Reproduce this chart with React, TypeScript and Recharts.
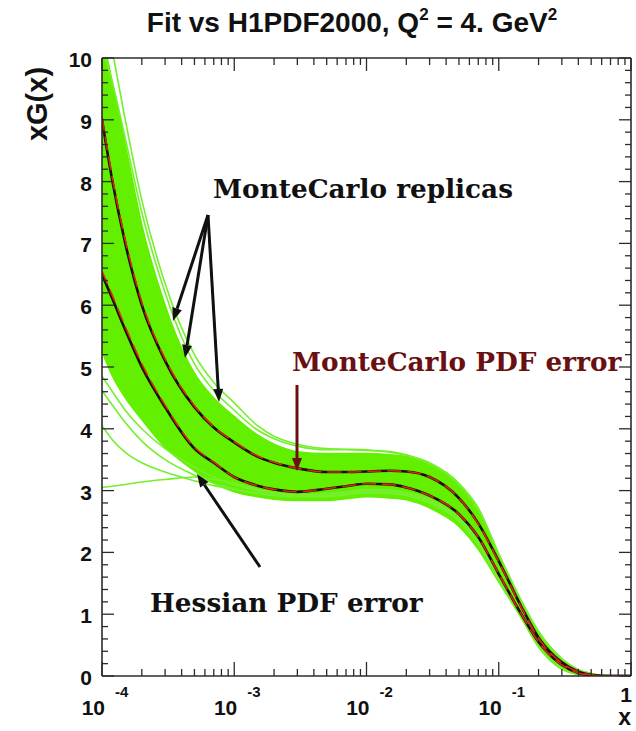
import React from "react"
import { ComposedChart, Area, Line, XAxis, YAxis } from "recharts"

// shared x grid for every curve (log scale)
const xValues = [
  1e-4, 1.2e-4, 1.5e-4, 2e-4, 3e-4, 5e-4, 7e-4, 1e-3, 1.5e-3, 2e-3, 3e-3, 5e-3, 7e-3, 1e-2,
  1.5e-2, 2e-2, 3e-2, 5e-2, 7e-2, 0.1, 0.15, 0.2, 0.3, 0.4, 0.5, 0.6, 0.8, 1,
]

// envelope of the MonteCarlo replica band
const bandHigh = [
  10.4, 9.6, 8.6, 7.3, 6.0, 4.9, 4.5, 4.2, 3.9, 3.75, 3.63, 3.6, 3.6, 3.6,
  3.58, 3.55, 3.42, 3.08, 2.66, 1.95, 1.18, 0.72, 0.28, 0.1, 0.04, 0.01, 0, 0,
]
const bandLow = [
  5.25, 4.85, 4.5, 4.15, 3.7, 3.32, 3.12, 2.98, 2.9, 2.86, 2.84, 2.84, 2.87, 2.9,
  2.88, 2.85, 2.72, 2.42, 2.05, 1.52, 0.92, 0.47, 0.11, 0.02, 0, 0, 0, 0,
]

// replicas that stray outside the dense band
const strayReplicas = [
  [3.05, 3.07, 3.1, 3.14, 3.18, 3.22, 3.18, 3.12, 3.02, 2.97, 2.93, 2.93, 2.96, 3.0,
    3.0, 2.96, 2.84, 2.54, 2.18, 1.58, 0.94, 0.5, 0.14, 0.03, 0.01, 0, 0, 0],
  [4.05, 3.82, 3.62, 3.45, 3.3, 3.16, 3.08, 3.02, 2.95, 2.92, 2.9, 2.9, 2.93, 2.96,
    2.95, 2.92, 2.8, 2.5, 2.12, 1.55, 0.93, 0.48, 0.12, 0.03, 0.01, 0, 0, 0],
  [4.62, 4.38, 4.1, 3.8, 3.5, 3.25, 3.12, 3.03, 2.96, 2.93, 2.92, 2.92, 2.95, 2.98,
    2.97, 2.94, 2.82, 2.52, 2.15, 1.56, 0.93, 0.48, 0.13, 0.03, 0.01, 0, 0, 0],
  [4.85, 4.6, 4.3, 4.0, 3.68, 3.38, 3.22, 3.1, 3.0, 2.96, 2.94, 2.95, 2.98, 3.02,
    3.01, 2.97, 2.86, 2.56, 2.2, 1.6, 0.95, 0.5, 0.14, 0.04, 0.01, 0, 0, 0],
  [10.9, 10.1, 9.0, 7.7, 6.35, 5.2, 4.75, 4.42, 4.05, 3.88, 3.75, 3.68, 3.67, 3.66,
    3.63, 3.58, 3.45, 3.12, 2.72, 1.98, 1.2, 0.72, 0.28, 0.1, 0.04, 0.01, 0, 0],
  [10.2, 9.6, 8.7, 7.5, 6.2, 5.05, 4.62, 4.3, 3.98, 3.84, 3.72, 3.66, 3.66, 3.65,
    3.62, 3.57, 3.44, 3.1, 2.7, 1.96, 1.18, 0.71, 0.27, 0.1, 0.04, 0.01, 0, 0],
]

// Hessian error bounds
const hessianUpper = [
  9.0, 8.0, 7.0, 6.0, 5.1, 4.35, 4.02, 3.78, 3.55, 3.45, 3.36, 3.3, 3.3, 3.31,
  3.32, 3.31, 3.22, 2.88, 2.47, 1.86, 1.1, 0.62, 0.22, 0.07, 0.02, 0, 0, 0,
]
const hessianLower = [
  6.5, 6.1, 5.6, 5.0, 4.35, 3.68, 3.45, 3.22, 3.08, 3.02, 2.98, 3.03, 3.07, 3.11,
  3.1, 3.05, 2.92, 2.62, 2.25, 1.65, 0.98, 0.55, 0.18, 0.05, 0.01, 0, 0, 0,
]

// MonteCarlo error bounds
const mcUpper = [
  9.05, 8.05, 7.05, 6.05, 5.13, 4.37, 4.03, 3.79, 3.56, 3.46, 3.36, 3.3, 3.3, 3.31,
  3.32, 3.31, 3.22, 2.88, 2.46, 1.85, 1.09, 0.61, 0.21, 0.07, 0.02, 0, 0, 0,
]
const mcLower = [
  6.55, 6.15, 5.65, 5.05, 4.38, 3.7, 3.46, 3.22, 3.08, 3.02, 2.98, 3.03, 3.07, 3.11,
  3.1, 3.05, 2.92, 2.62, 2.25, 1.65, 0.98, 0.55, 0.18, 0.05, 0.01, 0, 0, 0,
]

// axis ticks
const decades = [1e-4, 1e-3, 1e-2, 1e-1]
const mantissas = [1, 2, 3, 4, 5, 6, 7, 8, 9]
const yMajors = [0, 1, 2, 3, 4, 5, 6, 7, 8, 9, 10]
const yMinorSteps = [0, 0.2, 0.4, 0.6, 0.8]

const xTicks = [...decades.flatMap((d) => mantissas.map((m) => m * d)), 1]
const yTicks = yMajors.flatMap((v) => (v === 10 ? [10] : yMinorSteps.map((s) => +(v + s).toFixed(1))))

const data = xValues.map((x, i) => {
  const row: Record<string, any> = {
    x,
    band: [bandLow[i], bandHigh[i]],
    hU: hessianUpper[i],
    hL: hessianLower[i],
    mU: mcUpper[i],
    mL: mcLower[i],
  }
  strayReplicas.forEach((r, k) => (row[`s${k}`] = r[i]))
  return row
})

const W = 636
const H = 731
const green = "#63ef00"
const frame = "#2b2b2b"
const axisFont = "'Liberation Sans', Arial, Helvetica, sans-serif"
const serifFont = "'DejaVu Serif', 'Liberation Serif', serif"

const isDecade = (v: number) => Math.abs(Math.log10(v) - Math.round(Math.log10(v))) < 1e-6

function BottomTick({ x, y, payload }: any) {
  const v = payload.value
  const major = isDecade(v)
  const exp = Math.round(Math.log10(v))
  return (
    <g>
      <line x1={x} x2={x} y1={y} y2={y - (major ? 14 : 7)} stroke={frame} strokeWidth={1.3} />
      {major && exp === 0 ? (
        <text x={x + 1} y={y + 26} textAnchor="end" fontFamily={axisFont} fontWeight="bold" fontSize={21} fill="#111">
          1
        </text>
      ) : null}
      {major && exp !== 0 ? (
        <g fontFamily={axisFont} fontWeight="bold" fill="#111">
          <text x={x + 3} y={y + 39} textAnchor="end" fontSize={21}>
            10
          </text>
          <text x={x + 13} y={y + 21} textAnchor="start" fontSize={15}>
            {`-${-exp}`}
          </text>
        </g>
      ) : null}
    </g>
  )
}

function TopTick({ x, y, payload }: any) {
  const major = isDecade(payload.value)
  return <line x1={x} x2={x} y1={y} y2={y + (major ? 13 : 7)} stroke={frame} strokeWidth={1.3} />
}

function LeftTick({ x, y, payload }: any) {
  const v = payload.value
  const major = Number.isInteger(v)
  return (
    <g>
      <line x1={x} x2={x + (major ? 12 : 6)} y1={y} y2={y} stroke={frame} strokeWidth={1.3} />
      {major ? (
        <text x={x - 10} y={y + 9} textAnchor="end" fontFamily={axisFont} fontWeight="bold" fontSize={21} fill="#111">
          {v}
        </text>
      ) : null}
    </g>
  )
}

function RightTick({ x, y, payload }: any) {
  const major = Number.isInteger(payload.value)
  return <line x1={x} x2={x - (major ? 12 : 6)} y1={y} y2={y} stroke={frame} strokeWidth={1.3} />
}

function Arrow({ x1, y1, x2, y2, color }: { x1: number; y1: number; x2: number; y2: number; color: string }) {
  const a = Math.atan2(y2 - y1, x2 - x1)
  const len = 13
  const half = 5
  const bx = x2 - len * Math.cos(a)
  const by = y2 - len * Math.sin(a)
  const px = -Math.sin(a) * half
  const py = Math.cos(a) * half
  return (
    <g>
      <line x1={x1} y1={y1} x2={bx} y2={by} stroke={color} strokeWidth={3} />
      <polygon points={`${x2},${y2} ${bx + px},${by + py} ${bx - px},${by - py}`} fill={color} />
    </g>
  )
}

export default function App() {
  return (
    <div style={{ position: "absolute", left: 0, top: 0, width: W, height: H, background: "#fff" }}>
      <ComposedChart width={W} height={H} data={data} margin={{ top: 57, right: 4, bottom: 0, left: 42 }}>
        <XAxis
          xAxisId="bottom"
          dataKey="x"
          type="number"
          scale="log"
          domain={[1e-4, 1]}
          allowDataOverflow
          ticks={xTicks}
          interval={0}
          height={55}
          tickSize={0}
          tickMargin={0}
          tickLine={false}
          axisLine={{ stroke: frame, strokeWidth: 1.6 }}
          tick={<BottomTick />}
        />
        <XAxis
          xAxisId="top"
          orientation="top"
          dataKey="x"
          type="number"
          scale="log"
          domain={[1e-4, 1]}
          allowDataOverflow
          ticks={xTicks}
          interval={0}
          height={1}
          tickSize={0}
          tickMargin={0}
          tickLine={false}
          axisLine={{ stroke: frame, strokeWidth: 1.6 }}
          tick={<TopTick />}
        />
        <YAxis
          yAxisId="left"
          type="number"
          domain={[0, 10]}
          allowDataOverflow
          ticks={yTicks}
          interval={0}
          width={60}
          tickSize={0}
          tickMargin={0}
          tickLine={false}
          axisLine={{ stroke: frame, strokeWidth: 1.6 }}
          tick={<LeftTick />}
        />
        <YAxis
          yAxisId="right"
          orientation="right"
          type="number"
          domain={[0, 10]}
          allowDataOverflow
          ticks={yTicks}
          interval={0}
          width={1}
          tickSize={0}
          tickMargin={0}
          tickLine={false}
          axisLine={{ stroke: frame, strokeWidth: 1.6 }}
          tick={<RightTick />}
        />

        <Area
          xAxisId="bottom"
          yAxisId="left"
          dataKey="band"
          type="monotone"
          fill={green}
          fillOpacity={1}
          stroke={green}
          strokeWidth={1.5}
          isAnimationActive={false}
          dot={false}
          activeDot={false}
        />
        {strayReplicas.map((_, k) => (
          <Line
            key={k}
            xAxisId="bottom"
            yAxisId="left"
            dataKey={`s${k}`}
            type="monotone"
            stroke="#74f02c"
            strokeWidth={1.6}
            dot={false}
            activeDot={false}
            isAnimationActive={false}
          />
        ))}
        <Line xAxisId="bottom" yAxisId="left" dataKey="hU" type="monotone" stroke="#1a0d0d" strokeWidth={2.6} dot={false} activeDot={false} isAnimationActive={false} />
        <Line xAxisId="bottom" yAxisId="left" dataKey="hL" type="monotone" stroke="#1a0d0d" strokeWidth={2.6} dot={false} activeDot={false} isAnimationActive={false} />
        <Line xAxisId="bottom" yAxisId="left" dataKey="mU" type="monotone" stroke="#d8280e" strokeWidth={1.6} strokeDasharray="14 6" dot={false} activeDot={false} isAnimationActive={false} />
        <Line xAxisId="bottom" yAxisId="left" dataKey="mL" type="monotone" stroke="#d8280e" strokeWidth={1.6} strokeDasharray="14 6" dot={false} activeDot={false} isAnimationActive={false} />
      </ComposedChart>

      <svg width={W} height={H} style={{ position: "absolute", left: 0, top: 0, pointerEvents: "none" }}>
        <text x={352} y={32} textAnchor="middle" fontFamily={axisFont} fontWeight="bold" fontSize={28} fill="#111">
          Fit vs H1PDF2000, Q<tspan fontSize={17} dy={-12}>2</tspan>
          <tspan dy={12}> = 4. GeV</tspan>
          <tspan fontSize={17} dy={-12}>2</tspan>
        </text>
        <text
          transform="translate(47,104) rotate(-90)"
          textAnchor="middle"
          fontFamily={axisFont}
          fontWeight="bold"
          fontSize={29}
          fill="#111"
        >
          xG(x)
        </text>
        <text x={631} y={725} textAnchor="end" fontFamily={axisFont} fontWeight="bold" fontSize={23} fill="#111">
          x
        </text>

        <text x={213} y={198} fontFamily={serifFont} fontWeight="bold" fontSize={26.3} fill="#111">
          MonteCarlo replicas
        </text>
        <Arrow x1={208} y1={215} x2={173} y2={321} color="#111" />
        <Arrow x1={208} y1={215} x2={185} y2={358} color="#111" />
        <Arrow x1={208} y1={215} x2={219} y2={402} color="#111" />

        <text x={292} y={371} fontFamily={serifFont} fontWeight="bold" fontSize={26.3} fill="#6a1010">
          MonteCarlo PDF error
        </text>
        <Arrow x1={297} y1={385} x2={297} y2={471} color="#6a1010" />

        <text x={150} y={612} fontFamily={serifFont} fontWeight="bold" fontSize={26.3} fill="#111">
          Hessian PDF error
        </text>
        <Arrow x1={260} y1={567} x2={197} y2={474} color="#111" />
      </svg>
    </div>
  )
}
